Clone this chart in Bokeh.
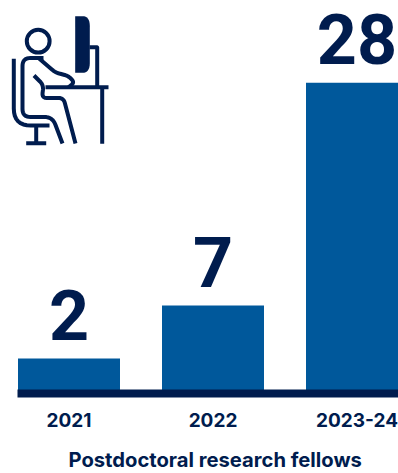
from bokeh.core.properties import value
from bokeh.embed import file_html
from bokeh.models import ColumnDataSource, FixedTicker, Range1d, Title
from bokeh.plotting import figure
from bokeh.resources import INLINE
import numpy as np

# Fellows per period
periods = ["2021", "2022", "2023-24"]
fellows = [2, 7, 28]
chart_title = "Postdoctoral research fellows"

BAR = "#00589b"
NAVY = "#001c4e"

index = list(range(len(periods)))
floor = -1.3

p = figure(
    width=398, height=473, output_backend="svg", toolbar_location=None,
    x_range=Range1d(-68.5 / 144, 329.5 / 144), y_range=Range1d(floor, 35.77),
    min_border_left=0, min_border_right=0, min_border_top=0, min_border_bottom=80,
    outline_line_color=None, background_fill_color="white", border_fill_color="white",
)
p.grid.visible = False
p.yaxis.visible = False

axis = p.xaxis[0]
axis.ticker = FixedTicker(ticks=index)
axis.major_label_overrides = dict(zip(index, periods))
axis.bounds = (-51.5 / 144, 329.5 / 144)
axis.axis_line_color = NAVY
axis.axis_line_width = 8
axis.major_tick_line_color = None
axis.minor_tick_line_color = None
axis.major_label_standoff = 13
axis.major_label_text_color = NAVY
axis.major_label_text_font = "Inter"
axis.major_label_text_font_style = "bold"
axis.major_label_text_font_size = "19px"
# A blank axis label opens the gap between tick labels and chart title
axis.axis_label = " "
axis.axis_label_text_font_size = "1px"
axis.axis_label_standoff = 11

source = ColumnDataSource(dict(x=index, fellows=fellows, label=[str(v) for v in fellows]))
p.vbar(x="x", top="fellows", bottom=floor, width=102 / 144, source=source, color=BAR, line_color=None)
p.text(
    x="x", y="fellows", text="label", source=source, y_offset=-44,
    text_align="center", text_baseline="alphabetic", text_color=NAVY,
    text_font=value("Roboto"), text_font_style="bold", text_font_size="70px",
)

p.add_layout(Title(
    text=chart_title, align="left", offset=68, standoff=0,
    text_color=NAVY, text_font="Inter", text_font_style="bold", text_font_size="20.2px",
), "below")

# Desk-worker pictogram, drawn on its own pixel-like ranges
p.extra_x_ranges["icon"] = Range1d(0, 398)
p.extra_y_ranges["icon"] = Range1d(393, 0)


def rounded(points, r=5.0):
    """Polyline through points with each inner corner replaced by a small curve."""
    pts = [np.array(q, dtype=float) for q in points]
    out = [pts[0]]
    for a, b, c in zip(pts, pts[1:], pts[2:]):
        u = a - b
        v = c - b
        ru = min(r, np.linalg.norm(u) / 2)
        rv = min(r, np.linalg.norm(v) / 2)
        s = b + u / np.linalg.norm(u) * ru
        e = b + v / np.linalg.norm(v) * rv
        for t in np.linspace(0, 1, 9):
            out.append((1 - t) ** 2 * s + 2 * t * (1 - t) * b + t ** 2 * e)
    out.append(pts[-1])
    arr = np.array(out)
    return arr[:, 0], arr[:, 1]


def stroke(points, r=5.0):
    xs, ys = rounded(points, r)
    p.line(xs, ys, x_range_name="icon", y_range_name="icon", line_color=NAVY,
           line_width=4, line_join="round", line_cap="butt")


p.circle(37.7, 40.7, radius=11.4, x_range_name="icon", y_range_name="icon",
         fill_color=None, line_color=NAVY, line_width=4)

mx, my = rounded([(74.7, 15.7), (89.3, 15.7), (89.3, 72.3), (74.7, 72.3)], 10)
p.patch(mx, my, x_range_name="icon", y_range_name="icon", color=NAVY, line_color=None)

stroke([(89, 46.7), (96.7, 46.7), (96.7, 86)], 0.5)
stroke([(45, 86.7), (108, 86.7)])
stroke([(101.7, 86.7), (101.7, 143.3)])
stroke([(13.3, 58.3), (13.3, 125), (49, 125)], 17)
stroke([(35.7, 125), (35.7, 142.7)])
stroke([(25.7, 142.7), (45.7, 142.7)])
stroke([(43, 57.5), (22, 57.5), (22, 116.5), (52, 116.5), (62, 143)], 8)
stroke([(38, 57.5), (55, 72), (68, 75.5), (74, 82), (68, 86.7)], 4)
stroke([(33.5, 75), (43, 84.5), (41.5, 97.5), (63, 97.5), (75, 143)], 5)

open("out.html", "w").write(file_html(p, INLINE))
